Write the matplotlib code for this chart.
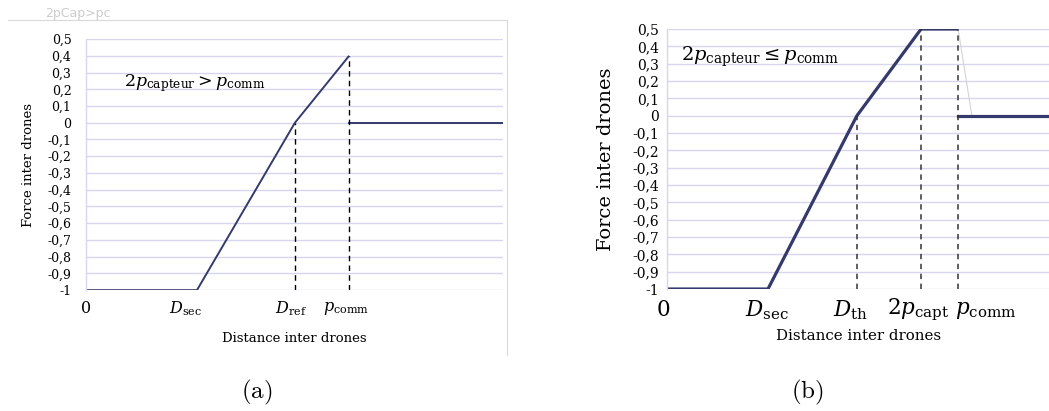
"""
Force inter drones en fonction de la distance inter drones:
(a) 2p_capteur > p_comm, (b) 2p_capteur <= p_comm
"""

import matplotlib
matplotlib.use("Agg")
import matplotlib.pyplot as plt
from matplotlib.lines import Line2D

plt.rcParams['font.family'] = ['DejaVu Serif']
plt.rcParams['mathtext.fontset'] = 'dejavuserif'

# Panel (a) : distances (arbitrary units, axis spans 0..100)
A_DIST = [0, 26.6, 50.1, 63.1]          # 0, D_sec, D_ref, p_comm
A_FORCE = [-1, -1, 0, 0.4]
A_TAIL_DIST = [63.1, 100]
A_TAIL_FORCE = [0, 0]
A_DASH_DIST = [50.1, 63.1]
A_DASH_TOP = [0, 0.4]
A_TICK_LABELS = ['0', r'$D_{\mathrm{sec}}$', r'$D_{\mathrm{ref}}$', r'$p_{\mathrm{comm}}$']

# Panel (b)
B_DIST = [0, 26.4, 49.7, 66.5, 76.2]    # 0, D_sec, D_th, 2p_capt, p_comm
B_FORCE = [-1, -1, 0, 0.5, 0.5]
B_DROP_DIST = [76.2, 79.8]
B_DROP_FORCE = [0.5, 0]
B_TAIL_DIST = [76.2, 100]
B_TAIL_FORCE = [0, 0]
B_DASH_DIST = [49.7, 66.5, 76.2]
B_DASH_TOP = [0, 0.5, 0.5]
B_TICK_LABELS = ['0', r'$D_{\mathrm{sec}}$', r'$D_{\mathrm{th}}$',
                 r'$2p_{\mathrm{capt}}$', r'$p_{\mathrm{comm}}$']

Y_TICKS = [0.5, 0.4, 0.3, 0.2, 0.1, 0, -0.1, -0.2, -0.3, -0.4, -0.5,
           -0.6, -0.7, -0.8, -0.9, -1]

LINE_COLOR = '#353a6c'
GRID_COLOR = '#d6d6ee'


def fmt_tick(v):
    if abs(v) < 1e-9:
        return '0'
    if abs(abs(v) - 1) < 1e-9:
        return '-1' if v < 0 else '1'
    return f'{v:.1f}'.replace('.', ',')


def setup_axes(ax, tick_size, pad):
    ax.set_xlim(0, 100)
    ax.set_ylim(-1, 0.5)
    ax.set_yticks(Y_TICKS)
    ax.set_yticklabels([fmt_tick(v) for v in Y_TICKS], fontsize=tick_size)
    ax.tick_params(axis='y', length=0, pad=pad)
    ax.set_xticks([])
    ax.grid(True, axis='y', color=GRID_COLOR, linewidth=1.0)
    for side in ['top', 'right', 'bottom']:
        ax.spines[side].set_visible(False)
    ax.spines['left'].set_color(GRID_COLOR)
    ax.spines['left'].set_linewidth(1.0)


def x_labels(ax, dists, labels, offsets, dy, size):
    for d, lab, (dx, ha) in zip(dists, labels, offsets):
        ax.annotate(lab, xy=(d, 0), xycoords=('data', 'axes fraction'),
                    xytext=(dx, dy), textcoords='offset points',
                    ha=ha, va='center', fontsize=size, annotation_clip=False)


fig = plt.figure(figsize=(10.49, 4.11), dpi=100)

# ---- panel (a)
ax_a = fig.add_axes([0.082, 0.294, 0.3975, 0.611])
setup_axes(ax_a, 9, 10.5)
ax_a.plot(A_DIST, A_FORCE, color=LINE_COLOR, linewidth=1.4, solid_capstyle='butt')
ax_a.plot(A_TAIL_DIST, A_TAIL_FORCE, color=LINE_COLOR, linewidth=1.4)
for d, top in zip(A_DASH_DIST, A_DASH_TOP):
    ax_a.plot([d, d], [-1, top], color='black', linewidth=1.0, linestyle=(0, (4, 3)))
ax_a.text(9.1, 0.24, r'$2p_{\mathrm{capteur}} > p_{\mathrm{comm}}$',
          fontsize=12.5, ha='left', va='center')
x_labels(ax_a, A_DIST, A_TICK_LABELS,
         [(0, 'center'), (-8.5, 'center'), (-3, 'center'), (-2, 'center')], -13.5, 11.5)
ax_a.set_xlabel('Distance inter drones', fontsize=9.5, labelpad=30)
ax_a.set_ylabel('Force inter drones', fontsize=9.5, labelpad=9)

# light frame and faint title around panel (a)
fig.add_artist(Line2D([8 / 1049, 507 / 1049], [1 - 20 / 411, 1 - 20 / 411],
                      transform=fig.transFigure, color='#d9d9d9', linewidth=0.8))
fig.add_artist(Line2D([507 / 1049, 507 / 1049], [1 - 20 / 411, 1 - 355 / 411],
                      transform=fig.transFigure, color='#d9d9d9', linewidth=0.8))
fig.text(45 / 1049, 1 - 13 / 411, '2pCap>pc', family='DejaVu Sans',
         color='#cccccc', fontsize=9, ha='left', va='center')

# ---- panel (b)
ax_b = fig.add_axes([0.636, 0.2968, 0.364, 0.6326])
setup_axes(ax_b, 10, 6)
ax_b.plot(B_DIST, B_FORCE, color=LINE_COLOR, linewidth=2.3, solid_capstyle='butt')
ax_b.plot(B_DROP_DIST, B_DROP_FORCE, color='#d4d4d4', linewidth=0.8)
ax_b.plot(B_TAIL_DIST, B_TAIL_FORCE, color=LINE_COLOR, linewidth=2.3)
for d, top in zip(B_DASH_DIST, B_DASH_TOP):
    ax_b.plot([d, d], [-1, top], color='#333333', linewidth=1.1, linestyle=(0, (3.5, 3)))
ax_b.text(3.7, 0.34, r'$2p_{\mathrm{capteur}} \leq p_{\mathrm{comm}}$',
          fontsize=14, ha='left', va='center')
x_labels(ax_b, B_DIST, B_TICK_LABELS,
         [(-3, 'center'), (-1, 'center'), (-5, 'center'), (-2, 'center'), (-2, 'left')],
         -15, 15.5)
ax_b.set_xlabel('Distance inter drones', fontsize=10.8, labelpad=29)
ax_b.set_ylabel('Force inter drones', fontsize=14, labelpad=12)

# captions
fig.text(257 / 1049, 1 - 392 / 411, r'$\mathrm{(a)}$', math_fontfamily='cm',
         fontsize=18, ha='center', va='center')
fig.text(807 / 1049, 1 - 392 / 411, r'$\mathrm{(b)}$', math_fontfamily='cm',
         fontsize=18, ha='center', va='center')

fig.savefig('out.png', dpi=100)
